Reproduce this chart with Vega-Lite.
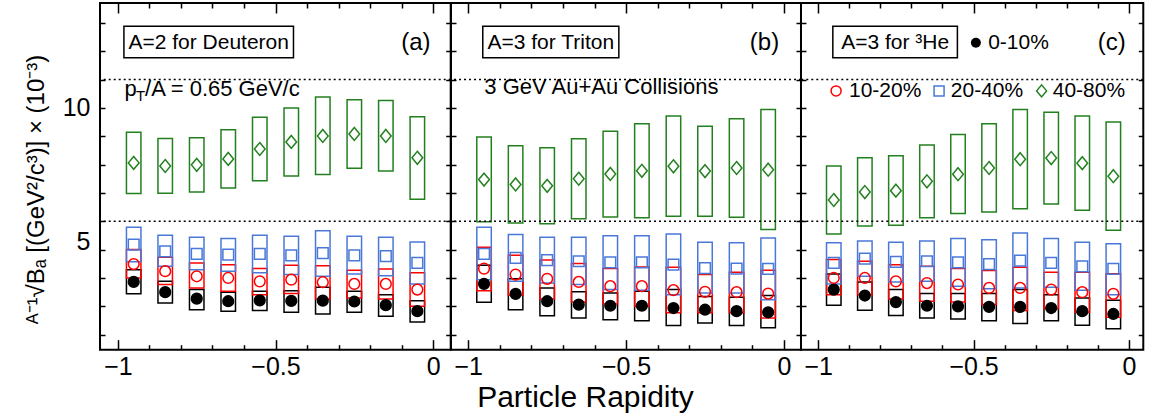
{
"$schema":"https://vega.github.io/schema/vega-lite/v6.json",
"padding":{"left":23,"top":1,"right":10,"bottom":0},
"spacing":0,
"bounds":"flush",
"datasets":{"cms":[
{"p":"a","c":"0-10%","r":-0.95,"v":3.86,"lo":3.44,"hi":4.29},
{"p":"a","c":"0-10%","r":-0.85,"v":3.50,"lo":3.12,"hi":3.88},
{"p":"a","c":"0-10%","r":-0.75,"v":3.27,"lo":2.88,"hi":3.59},
{"p":"a","c":"0-10%","r":-0.65,"v":3.18,"lo":2.83,"hi":3.50},
{"p":"a","c":"0-10%","r":-0.55,"v":3.21,"lo":2.85,"hi":3.53},
{"p":"a","c":"0-10%","r":-0.45,"v":3.19,"lo":2.79,"hi":3.55},
{"p":"a","c":"0-10%","r":-0.35,"v":3.20,"lo":2.73,"hi":3.67},
{"p":"a","c":"0-10%","r":-0.25,"v":3.17,"lo":2.79,"hi":3.53},
{"p":"a","c":"0-10%","r":-0.15,"v":3.04,"lo":2.65,"hi":3.41},
{"p":"a","c":"0-10%","r":-0.05,"v":2.83,"lo":2.45,"hi":3.20},
{"p":"a","c":"10-20%","r":-0.95,"v":4.49,"lo":4.00,"hi":5.00},
{"p":"a","c":"10-20%","r":-0.85,"v":4.24,"lo":3.77,"hi":4.73},
{"p":"a","c":"10-20%","r":-0.75,"v":4.06,"lo":3.65,"hi":4.53},
{"p":"a","c":"10-20%","r":-0.65,"v":4.00,"lo":3.53,"hi":4.47},
{"p":"a","c":"10-20%","r":-0.55,"v":3.88,"lo":3.41,"hi":4.33},
{"p":"a","c":"10-20%","r":-0.45,"v":3.94,"lo":3.45,"hi":4.45},
{"p":"a","c":"10-20%","r":-0.35,"v":3.85,"lo":3.26,"hi":4.43},
{"p":"a","c":"10-20%","r":-0.25,"v":3.79,"lo":3.29,"hi":4.27},
{"p":"a","c":"10-20%","r":-0.15,"v":3.79,"lo":3.26,"hi":4.32},
{"p":"a","c":"10-20%","r":-0.05,"v":3.59,"lo":3.00,"hi":4.18},
{"p":"a","c":"20-40%","r":-0.95,"v":5.18,"lo":4.57,"hi":5.79},
{"p":"a","c":"20-40%","r":-0.85,"v":4.94,"lo":4.41,"hi":5.51},
{"p":"a","c":"20-40%","r":-0.75,"v":4.85,"lo":4.29,"hi":5.44},
{"p":"a","c":"20-40%","r":-0.65,"v":4.82,"lo":4.24,"hi":5.39},
{"p":"a","c":"20-40%","r":-0.55,"v":4.85,"lo":4.18,"hi":5.51},
{"p":"a","c":"20-40%","r":-0.45,"v":4.80,"lo":4.12,"hi":5.47},
{"p":"a","c":"20-40%","r":-0.35,"v":4.88,"lo":4.06,"hi":5.67},
{"p":"a","c":"20-40%","r":-0.25,"v":4.80,"lo":4.14,"hi":5.47},
{"p":"a","c":"20-40%","r":-0.15,"v":4.77,"lo":4.08,"hi":5.44},
{"p":"a","c":"20-40%","r":-0.05,"v":4.53,"lo":3.79,"hi":5.27},
{"p":"a","c":"40-80%","r":-0.95,"v":8.06,"lo":6.98,"hi":9.14},
{"p":"a","c":"40-80%","r":-0.85,"v":7.95,"lo":6.99,"hi":8.92},
{"p":"a","c":"40-80%","r":-0.75,"v":7.99,"lo":7.03,"hi":8.95},
{"p":"a","c":"40-80%","r":-0.65,"v":8.20,"lo":7.17,"hi":9.23},
{"p":"a","c":"40-80%","r":-0.55,"v":8.55,"lo":7.43,"hi":9.67},
{"p":"a","c":"40-80%","r":-0.45,"v":8.80,"lo":7.60,"hi":10.00},
{"p":"a","c":"40-80%","r":-0.35,"v":9.01,"lo":7.65,"hi":10.38},
{"p":"a","c":"40-80%","r":-0.25,"v":9.08,"lo":7.87,"hi":10.29},
{"p":"a","c":"40-80%","r":-0.15,"v":9.01,"lo":7.77,"hi":10.26},
{"p":"a","c":"40-80%","r":-0.05,"v":8.24,"lo":6.78,"hi":9.69},
{"p":"b","c":"0-10%","r":-0.95,"v":3.79,"lo":3.14,"hi":4.45},
{"p":"b","c":"0-10%","r":-0.85,"v":3.44,"lo":2.88,"hi":3.97},
{"p":"b","c":"0-10%","r":-0.75,"v":3.18,"lo":2.67,"hi":3.65},
{"p":"b","c":"0-10%","r":-0.65,"v":3.06,"lo":2.59,"hi":3.51},
{"p":"b","c":"0-10%","r":-0.55,"v":3.02,"lo":2.53,"hi":3.47},
{"p":"b","c":"0-10%","r":-0.45,"v":3.02,"lo":2.49,"hi":3.53},
{"p":"b","c":"0-10%","r":-0.35,"v":2.94,"lo":2.32,"hi":3.59},
{"p":"b","c":"0-10%","r":-0.25,"v":2.88,"lo":2.41,"hi":3.35},
{"p":"b","c":"0-10%","r":-0.15,"v":2.83,"lo":2.32,"hi":3.32},
{"p":"b","c":"0-10%","r":-0.05,"v":2.79,"lo":2.24,"hi":3.38},
{"p":"b","c":"10-20%","r":-0.95,"v":4.33,"lo":3.55,"hi":5.08},
{"p":"b","c":"10-20%","r":-0.85,"v":4.12,"lo":3.39,"hi":4.80},
{"p":"b","c":"10-20%","r":-0.75,"v":3.97,"lo":3.26,"hi":4.63},
{"p":"b","c":"10-20%","r":-0.65,"v":3.86,"lo":3.15,"hi":4.51},
{"p":"b","c":"10-20%","r":-0.55,"v":3.71,"lo":3.08,"hi":4.33},
{"p":"b","c":"10-20%","r":-0.45,"v":3.71,"lo":3.00,"hi":4.39},
{"p":"b","c":"10-20%","r":-0.35,"v":3.57,"lo":2.77,"hi":4.38},
{"p":"b","c":"10-20%","r":-0.25,"v":3.51,"lo":2.77,"hi":4.12},
{"p":"b","c":"10-20%","r":-0.15,"v":3.50,"lo":2.77,"hi":4.20},
{"p":"b","c":"10-20%","r":-0.05,"v":3.45,"lo":2.59,"hi":4.27},
{"p":"b","c":"20-40%","r":-0.95,"v":4.85,"lo":3.94,"hi":5.79},
{"p":"b","c":"20-40%","r":-0.85,"v":4.71,"lo":3.88,"hi":5.53},
{"p":"b","c":"20-40%","r":-0.75,"v":4.63,"lo":3.82,"hi":5.44},
{"p":"b","c":"20-40%","r":-0.65,"v":4.59,"lo":3.77,"hi":5.44},
{"p":"b","c":"20-40%","r":-0.55,"v":4.55,"lo":3.59,"hi":5.49},
{"p":"b","c":"20-40%","r":-0.45,"v":4.55,"lo":3.57,"hi":5.49},
{"p":"b","c":"20-40%","r":-0.35,"v":4.47,"lo":3.41,"hi":5.55},
{"p":"b","c":"20-40%","r":-0.25,"v":4.35,"lo":3.47,"hi":5.26},
{"p":"b","c":"20-40%","r":-0.15,"v":4.33,"lo":3.47,"hi":5.24},
{"p":"b","c":"20-40%","r":-0.05,"v":4.32,"lo":3.23,"hi":5.41},
{"p":"b","c":"40-80%","r":-0.95,"v":7.47,"lo":5.98,"hi":8.97},
{"p":"b","c":"40-80%","r":-0.85,"v":7.30,"lo":5.94,"hi":8.66},
{"p":"b","c":"40-80%","r":-0.75,"v":7.25,"lo":5.91,"hi":8.59},
{"p":"b","c":"40-80%","r":-0.65,"v":7.50,"lo":6.09,"hi":8.91},
{"p":"b","c":"40-80%","r":-0.55,"v":7.67,"lo":6.15,"hi":9.18},
{"p":"b","c":"40-80%","r":-0.45,"v":7.78,"lo":6.12,"hi":9.44},
{"p":"b","c":"40-80%","r":-0.35,"v":7.94,"lo":6.18,"hi":9.71},
{"p":"b","c":"40-80%","r":-0.25,"v":7.77,"lo":6.18,"hi":9.35},
{"p":"b","c":"40-80%","r":-0.15,"v":7.88,"lo":6.14,"hi":9.62},
{"p":"b","c":"40-80%","r":-0.05,"v":7.82,"lo":5.71,"hi":9.94},
{"p":"c","c":"0-10%","r":-0.95,"v":3.59,"lo":3.04,"hi":4.14},
{"p":"c","c":"0-10%","r":-0.85,"v":3.38,"lo":2.86,"hi":3.86},
{"p":"c","c":"0-10%","r":-0.75,"v":3.15,"lo":2.68,"hi":3.59},
{"p":"c","c":"0-10%","r":-0.65,"v":3.02,"lo":2.59,"hi":3.45},
{"p":"c","c":"0-10%","r":-0.55,"v":3.00,"lo":2.55,"hi":3.45},
{"p":"c","c":"0-10%","r":-0.45,"v":2.98,"lo":2.49,"hi":3.45},
{"p":"c","c":"0-10%","r":-0.35,"v":2.98,"lo":2.39,"hi":3.59},
{"p":"c","c":"0-10%","r":-0.25,"v":2.94,"lo":2.49,"hi":3.41},
{"p":"c","c":"0-10%","r":-0.15,"v":2.83,"lo":2.33,"hi":3.29},
{"p":"c","c":"0-10%","r":-0.05,"v":2.73,"lo":2.21,"hi":3.21},
{"p":"c","c":"10-20%","r":-0.95,"v":4.00,"lo":3.41,"hi":4.65},
{"p":"c","c":"10-20%","r":-0.85,"v":4.00,"lo":3.41,"hi":4.59},
{"p":"c","c":"10-20%","r":-0.75,"v":3.88,"lo":3.26,"hi":4.47},
{"p":"c","c":"10-20%","r":-0.65,"v":3.82,"lo":3.18,"hi":4.41},
{"p":"c","c":"10-20%","r":-0.55,"v":3.77,"lo":3.15,"hi":4.33},
{"p":"c","c":"10-20%","r":-0.45,"v":3.65,"lo":3.06,"hi":4.26},
{"p":"c","c":"10-20%","r":-0.35,"v":3.65,"lo":2.85,"hi":4.38},
{"p":"c","c":"10-20%","r":-0.25,"v":3.59,"lo":2.91,"hi":4.20},
{"p":"c","c":"10-20%","r":-0.15,"v":3.50,"lo":2.79,"hi":4.20},
{"p":"c","c":"10-20%","r":-0.05,"v":3.44,"lo":2.61,"hi":4.15},
{"p":"c","c":"20-40%","r":-0.95,"v":4.53,"lo":3.79,"hi":5.24},
{"p":"c","c":"20-40%","r":-0.85,"v":4.68,"lo":4.06,"hi":5.30},
{"p":"c","c":"20-40%","r":-0.75,"v":4.57,"lo":3.86,"hi":5.26},
{"p":"c","c":"20-40%","r":-0.65,"v":4.59,"lo":3.88,"hi":5.30},
{"p":"c","c":"20-40%","r":-0.55,"v":4.55,"lo":3.71,"hi":5.39},
{"p":"c","c":"20-40%","r":-0.45,"v":4.49,"lo":3.62,"hi":5.35},
{"p":"c","c":"20-40%","r":-0.35,"v":4.61,"lo":3.65,"hi":5.59},
{"p":"c","c":"20-40%","r":-0.25,"v":4.53,"lo":3.67,"hi":5.39},
{"p":"c","c":"20-40%","r":-0.15,"v":4.41,"lo":3.57,"hi":5.26},
{"p":"c","c":"20-40%","r":-0.05,"v":4.32,"lo":3.41,"hi":5.21},
{"p":"c","c":"40-80%","r":-0.95,"v":6.75,"lo":5.55,"hi":7.95},
{"p":"c","c":"40-80%","r":-0.85,"v":7.03,"lo":5.83,"hi":8.24},
{"p":"c","c":"40-80%","r":-0.75,"v":7.08,"lo":5.86,"hi":8.31},
{"p":"c","c":"40-80%","r":-0.65,"v":7.41,"lo":6.12,"hi":8.69},
{"p":"c","c":"40-80%","r":-0.55,"v":7.66,"lo":6.27,"hi":9.06},
{"p":"c","c":"40-80%","r":-0.45,"v":7.88,"lo":6.33,"hi":9.44},
{"p":"c","c":"40-80%","r":-0.35,"v":8.19,"lo":6.44,"hi":9.94},
{"p":"c","c":"40-80%","r":-0.25,"v":8.23,"lo":6.61,"hi":9.85},
{"p":"c","c":"40-80%","r":-0.15,"v":8.05,"lo":6.39,"hi":9.71},
{"p":"c","c":"40-80%","r":-0.05,"v":7.59,"lo":5.68,"hi":9.50}
]},
"hconcat":[
{"width":350.7,"height":346.7,
 "layer":[
  {"data":{"name":"cms"},"transform":[{"filter":"datum.p=='a'"}],
   "mark":{"type":"bar","filled":false,"width":14.5,"strokeWidth":1.5},
   "encoding":{
    "x":{"field":"r","type":"quantitative","scale":{"domain":[-1.041,0.04],"nice":false,"zero":false},
     "axis":{"orient":"bottom","values":[-1,-0.9,-0.8,-0.7,-0.6,-0.5,-0.4,-0.3,-0.2,-0.1,0],"tickSize":{"condition":{"test":"abs(datum.value*2-round(datum.value*2))<0.001","value":-10},"value":-5},"labelExpr":"abs(datum.value+1)<0.001 ? '−1' : abs(datum.value+0.5)<0.001 ? '−0.5' : abs(datum.value)<0.001 ? '0' : ''","labelPadding":15,"title":null}},
    "y":{"field":"lo","type":"quantitative","scale":{"domain":[1.47,13.7],"nice":false,"zero":false},
     "axis":{"orient":"left","values":[2,3,4,5,6,7,8,9,10,11,12,13],"tickSize":-5,"labelExpr":"datum.value==5 ? '5' : datum.value==10 ? '10' : ''","labelPadding":15,"labelOffset":{"condition":{"test":"datum.value==5","value":-8},"value":0},"title":"ᴬ⁻¹√Bₐ [(GeV²/c³)] × (10⁻³)","titleFontSize":24,"titlePadding":14,"titleY":186}},
    "y2":{"field":"hi"},
    "color":{"field":"c","type":"nominal","scale":{"domain":["0-10%","10-20%","20-40%","40-80%"],"range":["#000000","#ff0000","#4a78d8","#23801f"]},"legend":null}}},
  {"data":{"name":"cms"},"transform":[{"filter":"datum.p=='a'"}],
   "mark":{"type":"point","filled":false,"strokeWidth":1.5,"size":115,"opacity":1},
   "encoding":{
    "x":{"field":"r","type":"quantitative","scale":{"domain":[-1.041,0.04],"nice":false,"zero":false},"axis":{"orient":"top","values":[-1,-0.9,-0.8,-0.7,-0.6,-0.5,-0.4,-0.3,-0.2,-0.1,0],"tickSize":{"condition":{"test":"abs(datum.value*2-round(datum.value*2))<0.001","value":-10},"value":-5},"labels":false,"title":null}},
    "y":{"field":"v","type":"quantitative","scale":{"domain":[1.47,13.7],"nice":false,"zero":false},"axis":{"orient":"right","values":[2,3,4,5,6,7,8,9,10,11,12,13],"tickSize":-5,"labels":false,"title":null}},
    "color":{"field":"c","type":"nominal","scale":{"domain":["0-10%","10-20%","20-40%","40-80%"],"range":["#000000","#ff0000","#4a78d8","#23801f"]},"legend":null},
    "fill":{"field":"c","type":"nominal","scale":{"domain":["0-10%","10-20%","20-40%","40-80%"],"range":["#000000","transparent","transparent","transparent"]},"legend":null},
    "shape":{"field":"c","type":"nominal","scale":{"domain":["0-10%","10-20%","20-40%","40-80%"],"range":["circle","circle","square","M0,-1.2L1,0L0,1.2L-1,0Z"]},"legend":null}}},
  {"data":{"values":[{}]},"mark":{"type":"rule","strokeDash":[2,3],"strokeWidth":1.5,"color":"black"},"encoding":{"y":{"datum":6,"type":"quantitative","axis":null}}},
  {"data":{"values":[{}]},"mark":{"type":"rule","strokeDash":[2,3],"strokeWidth":1.5,"color":"black"},"encoding":{"y":{"datum":11,"type":"quantitative","axis":null}}},
  {"data":{"values":[{}]},"mark":{"type":"rect","fill":"white","stroke":"black","strokeWidth":1.5},"encoding":{"x":{"datum":-0.981,"type":"quantitative","axis":null},"x2":{"datum":-0.443},"y":{"datum":11.765,"type":"quantitative","axis":null},"y2":{"datum":12.884}}},
  {"data":{"values":[{}]},"mark":{"type":"text","fontSize":21,"align":"center","baseline":"middle"},"encoding":{"x":{"datum":-0.712,"type":"quantitative","axis":null},"y":{"datum":12.3,"type":"quantitative","axis":null},"text":{"value":"A=2 for Deuteron"}}},
  {"data":{"values":[{}]},"mark":{"type":"text","fontSize":24,"align":"right","baseline":"middle"},"encoding":{"x":{"datum":-0.008,"type":"quantitative","axis":null},"y":{"datum":12.3,"type":"quantitative","axis":null},"text":{"value":"(a)"}}},
  {"data":{"values":[{}]},"mark":{"type":"text","fontSize":22,"align":"left","baseline":"middle"},"encoding":{"x":{"datum":-0.979,"type":"quantitative","axis":null},"y":{"datum":10.66,"type":"quantitative","axis":null},"text":{"value":"p"}}},
  {"data":{"values":[{}]},"mark":{"type":"text","fontSize":15,"align":"left","baseline":"middle"},"encoding":{"x":{"datum":-0.943,"type":"quantitative","axis":null},"y":{"datum":10.42,"type":"quantitative","axis":null},"text":{"value":"T"}}},
  {"data":{"values":[{}]},"mark":{"type":"text","fontSize":22,"align":"left","baseline":"middle"},"encoding":{"x":{"datum":-0.914,"type":"quantitative","axis":null},"y":{"datum":10.66,"type":"quantitative","axis":null},"text":{"value":"/A = 0.65 GeV/c"}}}
 ],
 "resolve":{"axis":{"x":"independent","y":"independent"}}
},
{"width":350,"height":346.7,
 "layer":[
  {"data":{"name":"cms"},"transform":[{"filter":"datum.p=='b'"}],
   "mark":{"type":"bar","filled":false,"width":14.5,"strokeWidth":1.5},
   "encoding":{
    "x":{"field":"r","type":"quantitative","scale":{"domain":[-1.0388,0.0382],"nice":false,"zero":false},
     "axis":{"orient":"bottom","values":[-1,-0.9,-0.8,-0.7,-0.6,-0.5,-0.4,-0.3,-0.2,-0.1,0],"tickSize":{"condition":{"test":"abs(datum.value*2-round(datum.value*2))<0.001","value":-10},"value":-5},"labelExpr":"abs(datum.value+1)<0.001 ? '−1' : abs(datum.value+0.5)<0.001 ? '−0.5' : abs(datum.value)<0.001 ? '0' : ''","labelPadding":15,"title":"Particle Rapidity","titleFontSize":30,"titleX":134,"titleY":57,"titleBaseline":"alphabetic"}},
    "y":{"field":"lo","type":"quantitative","scale":{"domain":[1.47,13.7],"nice":false,"zero":false},
     "axis":{"orient":"left","values":[2,3,4,5,6,7,8,9,10,11,12,13],"tickSize":-5,"labels":false,"title":null}},
    "y2":{"field":"hi"},
    "color":{"field":"c","type":"nominal","scale":{"domain":["0-10%","10-20%","20-40%","40-80%"],"range":["#000000","#ff0000","#4a78d8","#23801f"]},"legend":null}}},
  {"data":{"name":"cms"},"transform":[{"filter":"datum.p=='b'"}],
   "mark":{"type":"point","filled":false,"strokeWidth":1.5,"size":115,"opacity":1},
   "encoding":{
    "x":{"field":"r","type":"quantitative","scale":{"domain":[-1.0388,0.0382],"nice":false,"zero":false},"axis":{"orient":"top","values":[-1,-0.9,-0.8,-0.7,-0.6,-0.5,-0.4,-0.3,-0.2,-0.1,0],"tickSize":{"condition":{"test":"abs(datum.value*2-round(datum.value*2))<0.001","value":-10},"value":-5},"labels":false,"title":null}},
    "y":{"field":"v","type":"quantitative","scale":{"domain":[1.47,13.7],"nice":false,"zero":false},"axis":{"orient":"right","values":[2,3,4,5,6,7,8,9,10,11,12,13],"tickSize":-5,"labels":false,"title":null}},
    "color":{"field":"c","type":"nominal","scale":{"domain":["0-10%","10-20%","20-40%","40-80%"],"range":["#000000","#ff0000","#4a78d8","#23801f"]},"legend":null},
    "fill":{"field":"c","type":"nominal","scale":{"domain":["0-10%","10-20%","20-40%","40-80%"],"range":["#000000","transparent","transparent","transparent"]},"legend":null},
    "shape":{"field":"c","type":"nominal","scale":{"domain":["0-10%","10-20%","20-40%","40-80%"],"range":["circle","circle","square","M0,-1.2L1,0L0,1.2L-1,0Z"]},"legend":null}}},
  {"data":{"values":[{}]},"mark":{"type":"rule","strokeDash":[2,3],"strokeWidth":1.5,"color":"black"},"encoding":{"y":{"datum":6,"type":"quantitative","axis":null}}},
  {"data":{"values":[{}]},"mark":{"type":"rule","strokeDash":[2,3],"strokeWidth":1.5,"color":"black"},"encoding":{"y":{"datum":11,"type":"quantitative","axis":null}}},
  {"data":{"values":[{}]},"mark":{"type":"rect","fill":"white","stroke":"black","strokeWidth":1.5},"encoding":{"x":{"datum":-0.954,"type":"quantitative","axis":null},"x2":{"datum":-0.523},"y":{"datum":11.765,"type":"quantitative","axis":null},"y2":{"datum":12.884}}},
  {"data":{"values":[{}]},"mark":{"type":"text","fontSize":21,"align":"center","baseline":"middle"},"encoding":{"x":{"datum":-0.7385,"type":"quantitative","axis":null},"y":{"datum":12.3,"type":"quantitative","axis":null},"text":{"value":"A=3 for Triton"}}},
  {"data":{"values":[{}]},"mark":{"type":"text","fontSize":24,"align":"right","baseline":"middle"},"encoding":{"x":{"datum":-0.015,"type":"quantitative","axis":null},"y":{"datum":12.3,"type":"quantitative","axis":null},"text":{"value":"(b)"}}},
  {"data":{"values":[{}]},"mark":{"type":"text","fontSize":22,"align":"left","baseline":"middle"},"encoding":{"x":{"datum":-0.949,"type":"quantitative","axis":null},"y":{"datum":10.74,"type":"quantitative","axis":null},"text":{"value":"3 GeV Au+Au Collisions"}}}
 ],
 "resolve":{"axis":{"x":"independent","y":"independent"}}
},
{"width":342.3,"height":346.7,
 "layer":[
  {"data":{"name":"cms"},"transform":[{"filter":"datum.p=='c'"}],
   "mark":{"type":"bar","filled":false,"width":14.5,"strokeWidth":1.5},
   "encoding":{
    "x":{"field":"r","type":"quantitative","scale":{"domain":[-1.0394,0.0303],"nice":false,"zero":false},
     "axis":{"orient":"bottom","values":[-1,-0.9,-0.8,-0.7,-0.6,-0.5,-0.4,-0.3,-0.2,-0.1,0],"tickSize":{"condition":{"test":"abs(datum.value*2-round(datum.value*2))<0.001","value":-10},"value":-5},"labelExpr":"abs(datum.value+1)<0.001 ? '−1' : abs(datum.value+0.5)<0.001 ? '−0.5' : abs(datum.value)<0.001 ? '0' : ''","labelPadding":15,"title":null}},
    "y":{"field":"lo","type":"quantitative","scale":{"domain":[1.47,13.7],"nice":false,"zero":false},
     "axis":{"orient":"left","values":[2,3,4,5,6,7,8,9,10,11,12,13],"tickSize":-5,"labels":false,"title":null}},
    "y2":{"field":"hi"},
    "color":{"field":"c","type":"nominal","scale":{"domain":["0-10%","10-20%","20-40%","40-80%"],"range":["#000000","#ff0000","#4a78d8","#23801f"]},"legend":null}}},
  {"data":{"name":"cms"},"transform":[{"filter":"datum.p=='c'"}],
   "mark":{"type":"point","filled":false,"strokeWidth":1.5,"size":115,"opacity":1},
   "encoding":{
    "x":{"field":"r","type":"quantitative","scale":{"domain":[-1.0394,0.0303],"nice":false,"zero":false},"axis":{"orient":"top","values":[-1,-0.9,-0.8,-0.7,-0.6,-0.5,-0.4,-0.3,-0.2,-0.1,0],"tickSize":{"condition":{"test":"abs(datum.value*2-round(datum.value*2))<0.001","value":-10},"value":-5},"labels":false,"title":null}},
    "y":{"field":"v","type":"quantitative","scale":{"domain":[1.47,13.7],"nice":false,"zero":false},"axis":{"orient":"right","values":[2,3,4,5,6,7,8,9,10,11,12,13],"tickSize":-5,"labels":false,"title":null}},
    "color":{"field":"c","type":"nominal","scale":{"domain":["0-10%","10-20%","20-40%","40-80%"],"range":["#000000","#ff0000","#4a78d8","#23801f"]},"legend":null},
    "fill":{"field":"c","type":"nominal","scale":{"domain":["0-10%","10-20%","20-40%","40-80%"],"range":["#000000","transparent","transparent","transparent"]},"legend":null},
    "shape":{"field":"c","type":"nominal","scale":{"domain":["0-10%","10-20%","20-40%","40-80%"],"range":["circle","circle","square","M0,-1.2L1,0L0,1.2L-1,0Z"]},"legend":null}}},
  {"data":{"values":[{}]},"mark":{"type":"rule","strokeDash":[2,3],"strokeWidth":1.5,"color":"black"},"encoding":{"y":{"datum":6,"type":"quantitative","axis":null}}},
  {"data":{"values":[{}]},"mark":{"type":"rule","strokeDash":[2,3],"strokeWidth":1.5,"color":"black"},"encoding":{"y":{"datum":11,"type":"quantitative","axis":null}}},
  {"data":{"values":[{}]},"mark":{"type":"rect","fill":"white","stroke":"black","strokeWidth":1.5},"encoding":{"x":{"datum":-0.953,"type":"quantitative","axis":null},"x2":{"datum":-0.552},"y":{"datum":11.765,"type":"quantitative","axis":null},"y2":{"datum":12.884}}},
  {"data":{"values":[{}]},"mark":{"type":"text","fontSize":21,"align":"center","baseline":"middle"},"encoding":{"x":{"datum":-0.7525,"type":"quantitative","axis":null},"y":{"datum":12.3,"type":"quantitative","axis":null},"text":{"value":"A=3 for ³He"}}},
  {"data":{"values":[{}]},"mark":{"type":"text","fontSize":24,"align":"right","baseline":"middle"},"encoding":{"x":{"datum":-0.0103,"type":"quantitative","axis":null},"y":{"datum":12.3,"type":"quantitative","axis":null},"text":{"value":"(c)"}}},
  {"data":{"values":[{}]},"mark":{"type":"point","shape":"circle","filled":true,"color":"black","size":100,"opacity":1},"encoding":{"x":{"datum":-0.4925,"type":"quantitative","axis":null},"y":{"datum":12.3,"type":"quantitative","axis":null}}},
  {"data":{"values":[{}]},"mark":{"type":"point","shape":"circle","filled":false,"color":"#ff0000","strokeWidth":1.5,"size":100,"opacity":1},"encoding":{"x":{"datum":-0.9425,"type":"quantitative","axis":null},"y":{"datum":10.6,"type":"quantitative","axis":null}}},
  {"data":{"values":[{}]},"mark":{"type":"point","shape":"square","filled":false,"color":"#4a78d8","strokeWidth":1.5,"size":100,"opacity":1},"encoding":{"x":{"datum":-0.611,"type":"quantitative","axis":null},"y":{"datum":10.6,"type":"quantitative","axis":null}}},
  {"data":{"values":[{}]},"mark":{"type":"point","shape":"M0,-1.2L1,0L0,1.2L-1,0Z","filled":false,"color":"#23801f","strokeWidth":1.5,"size":100,"opacity":1},"encoding":{"x":{"datum":-0.281,"type":"quantitative","axis":null},"y":{"datum":10.6,"type":"quantitative","axis":null}}},
  {"data":{"values":[{}]},"mark":{"type":"text","fontSize":21,"align":"left","baseline":"middle"},"encoding":{"x":{"datum":-0.453,"type":"quantitative","axis":null},"y":{"datum":12.3,"type":"quantitative","axis":null},"text":{"value":"0-10%"}}},
  {"data":{"values":[{}]},"mark":{"type":"text","fontSize":21,"align":"left","baseline":"middle"},"encoding":{"x":{"datum":-0.901,"type":"quantitative","axis":null},"y":{"datum":10.6,"type":"quantitative","axis":null},"text":{"value":"10-20%"}}},
  {"data":{"values":[{}]},"mark":{"type":"text","fontSize":21,"align":"left","baseline":"middle"},"encoding":{"x":{"datum":-0.573,"type":"quantitative","axis":null},"y":{"datum":10.6,"type":"quantitative","axis":null},"text":{"value":"20-40%"}}},
  {"data":{"values":[{}]},"mark":{"type":"text","fontSize":21,"align":"left","baseline":"middle"},"encoding":{"x":{"datum":-0.245,"type":"quantitative","axis":null},"y":{"datum":10.6,"type":"quantitative","axis":null},"text":{"value":"40-80%"}}}
 ],
 "resolve":{"axis":{"x":"independent","y":"independent"}}
}
],
"config":{
 "font":"Liberation Sans",
 "view":{"stroke":"black","strokeWidth":2},
 "axis":{"grid":false,"domain":false,"tickColor":"black","tickWidth":1.5,"labelColor":"black","titleColor":"black","labelFont":"Liberation Sans","titleFont":"Liberation Sans","titleFontWeight":"normal","labelFontSize":25,"labelOverlap":false,"labelFlush":false,"labelBound":false},
 "text":{"font":"Liberation Sans","color":"black"}
}
}
